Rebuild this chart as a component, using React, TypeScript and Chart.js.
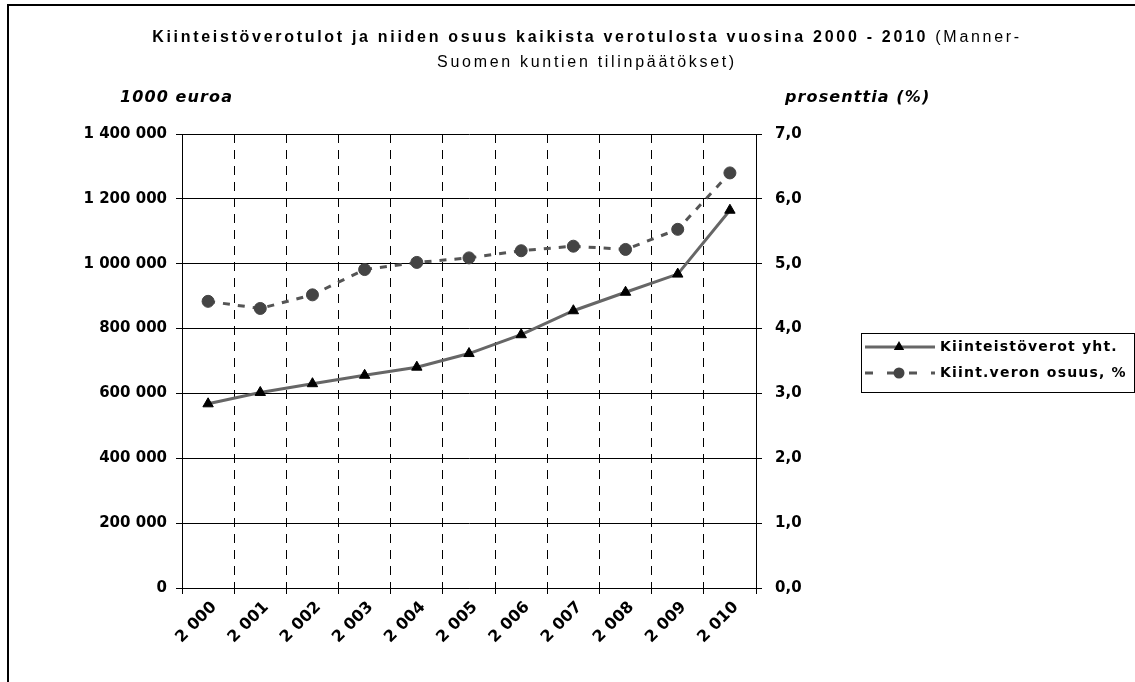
import React, { useEffect, useRef } from 'react';
import { Chart, registerables } from 'chart.js';

Chart.register(...registerables);

const years = ['2 000', '2 001', '2 002', '2 003', '2 004', '2 005', '2 006', '2 007', '2 008', '2 009', '2 010'];
const taxIncome = [568000, 603000, 630000, 656000, 681000, 723000, 781000, 855000, 912000, 968000, 1165000];
const taxShare = [4.42, 4.31, 4.52, 4.91, 5.02, 5.09, 5.2, 5.27, 5.22, 5.53, 6.4];
const seriesNames = ['Kiinteistöverot yht.', 'Kiint.veron osuus, %'];
const titleBold = 'Kiinteistöverotulot ja niiden osuus kaikista verotulosta vuosina 2000 - 2010 ';
const titleNormal1 = '(Manner-';
const titleLine2 = 'Suomen kuntien tilinpäätökset)';
const leftAxisTitle = '1000 euroa';
const rightAxisTitle = 'prosenttia (%)';

const FONT = '"DejaVu Sans", "Liberation Sans", Arial, sans-serif';
const TITLE_FONT = '"Liberation Sans", Arial, sans-serif';
const LINE_GRAY = '#666666';
const DOT_GRAY = '#444444';

function setSpacing(ctx: any, v: string) {
  try { ctx.letterSpacing = v; } catch (e) {}
}

const decorPlugin = {
  id: 'decor',
  beforeDraw(chart: any) {
    const ctx = chart.ctx;
    setSpacing(ctx, '0px');
    ctx.save();
    ctx.fillStyle = '#ffffff';
    ctx.fillRect(0, 0, chart.width, chart.height);
    ctx.restore();
  },
  afterDraw(chart: any) {
    const ctx = chart.ctx;
    ctx.save();
    // outer frame
    ctx.strokeStyle = '#000';
    ctx.lineWidth = 2;
    ctx.strokeRect(8, 5, 1300, 900);

    // title
    ctx.fillStyle = '#000';
    ctx.textBaseline = 'middle';
    ctx.textAlign = 'left';
    setSpacing(ctx, '2.7px');
    ctx.font = `bold 16px ${TITLE_FONT}`;
    const wB = ctx.measureText(titleBold).width;
    ctx.font = `16px ${TITLE_FONT}`;
    const wN = ctx.measureText(titleNormal1).width;
    const cx = 587;
    const x0 = cx - (wB + wN) / 2;
    ctx.font = `bold 16px ${TITLE_FONT}`;
    ctx.fillText(titleBold, x0, 38);
    ctx.font = `16px ${TITLE_FONT}`;
    ctx.fillText(titleNormal1, x0 + wB, 38);
    ctx.textAlign = 'center';
    ctx.fillText(titleLine2, cx, 63);

    // axis titles
    ctx.textAlign = 'left';
    setSpacing(ctx, '1.1px');
    ctx.font = `italic bold 16px ${FONT}`;
    ctx.fillText(leftAxisTitle, 120, 98);
    ctx.fillText(rightAxisTitle, 785, 98);

    // legend
    setSpacing(ctx, '0px');
    ctx.lineWidth = 1;
    ctx.strokeStyle = '#000';
    ctx.strokeRect(861.5, 333.5, 273, 59);
    const ly1 = 347;
    const ly2 = 373;
    ctx.strokeStyle = LINE_GRAY;
    ctx.lineWidth = 3;
    ctx.beginPath();
    ctx.moveTo(865, ly1);
    ctx.lineTo(935, ly1);
    ctx.stroke();
    const r = 6;
    ctx.fillStyle = '#000';
    ctx.beginPath();
    ctx.moveTo(899, ly1 - r);
    ctx.lineTo(899 + r * Math.sin(2 * Math.PI / 3), ly1 - r * Math.cos(2 * Math.PI / 3));
    ctx.lineTo(899 + r * Math.sin(4 * Math.PI / 3), ly1 - r * Math.cos(4 * Math.PI / 3));
    ctx.closePath();
    ctx.fill();
    ctx.strokeStyle = '#555555';
    ctx.setLineDash([8, 14]);
    ctx.beginPath();
    ctx.moveTo(865, ly2);
    ctx.lineTo(935, ly2);
    ctx.stroke();
    ctx.setLineDash([]);
    ctx.fillStyle = DOT_GRAY;
    ctx.beginPath();
    ctx.arc(899, ly2, 5.5, 0, Math.PI * 2);
    ctx.fill();
    ctx.fillStyle = '#000';
    setSpacing(ctx, '1.2px');
    ctx.font = `bold 14px ${FONT}`;
    ctx.fillText(seriesNames[0], 940, ly1);
    ctx.fillText(seriesNames[1], 940, ly2);
    ctx.restore();
    setSpacing(ctx, '0px');
  },
};

export default function App() {
  const canvasRef = useRef<HTMLCanvasElement | null>(null);

  useEffect(() => {
    const canvas = canvasRef.current;
    if (!canvas) return;
    const tickFont = { family: FONT, size: 15, weight: 'bold' as const };
    const chart = new Chart(canvas, {
      type: 'line',
      data: {
        labels: years,
        datasets: [
          {
            label: seriesNames[0],
            data: taxIncome,
            yAxisID: 'yL',
            borderColor: LINE_GRAY,
            borderWidth: 3,
            pointStyle: 'triangle',
            pointRadius: 6,
            pointBackgroundColor: '#000',
            pointBorderColor: '#000',
            pointBorderWidth: 1,
            tension: 0,
            fill: false,
          },
          {
            label: seriesNames[1],
            data: taxShare,
            yAxisID: 'yR',
            borderColor: '#555555',
            borderWidth: 3,
            borderDash: [7, 8],
            pointStyle: 'circle',
            pointRadius: 6,
            pointBackgroundColor: DOT_GRAY,
            pointBorderColor: DOT_GRAY,
            pointBorderWidth: 1,
            tension: 0,
            fill: false,
          },
        ],
      },
      options: {
        responsive: false,
        animation: false,
        devicePixelRatio: 1,
        layout: { padding: { left: 0, right: 319, top: 134, bottom: 14 } },
        plugins: {
          legend: { display: false },
          title: { display: false },
          tooltip: { enabled: false },
        },
        scales: {
          x: {
            type: 'category',
            offset: true,
            grid: {
              offset: true,
              color: '#000',
              lineWidth: 1,
              tickLength: 6,
              tickColor: '#000',
              tickBorderDash: [],
            },
            border: { display: true, color: '#000', width: 1, dash: [9, 7] },
            ticks: {
              autoSkip: false,
              maxRotation: 45,
              minRotation: 45,
              padding: 4,
              labelOffset: 6,
              color: '#000',
              font: { family: FONT, size: 16, weight: 'bold' as const },
            },
            afterFit: (s: any) => { s.height = 80; },
          },
          yL: {
            type: 'linear',
            position: 'left',
            min: 0,
            max: 1400000,
            ticks: {
              stepSize: 200000,
              padding: 9,
              color: '#000',
              font: tickFont,
              callback: (v: any) => String(v).replace(/\B(?=(\d{3})+(?!\d))/g, ' '),
            },
            grid: { color: '#000', lineWidth: 1, tickLength: 6 },
            border: { display: true, color: '#000', width: 1 },
            afterFit: (s: any) => { s.width = 182; },
          },
          yR: {
            type: 'linear',
            position: 'right',
            min: 0,
            max: 7,
            ticks: {
              stepSize: 1,
              padding: 13,
              color: '#000',
              font: tickFont,
              callback: (v: any) => Number(v).toFixed(1).replace('.', ','),
            },
            grid: { drawOnChartArea: false, color: '#000', tickLength: 6 },
            border: { display: true, color: '#000', width: 1 },
            afterFit: (s: any) => { s.width = 60; },
          },
        },
      },
      plugins: [decorPlugin],
    });
    return () => chart.destroy();
  }, []);

  return (
    <div style={{ position: 'absolute', left: 0, top: 0, width: 1135, height: 682, background: '#fff' }}>
      <canvas ref={canvasRef} width={1135} height={682} style={{ display: 'block' }} />
    </div>
  );
}
